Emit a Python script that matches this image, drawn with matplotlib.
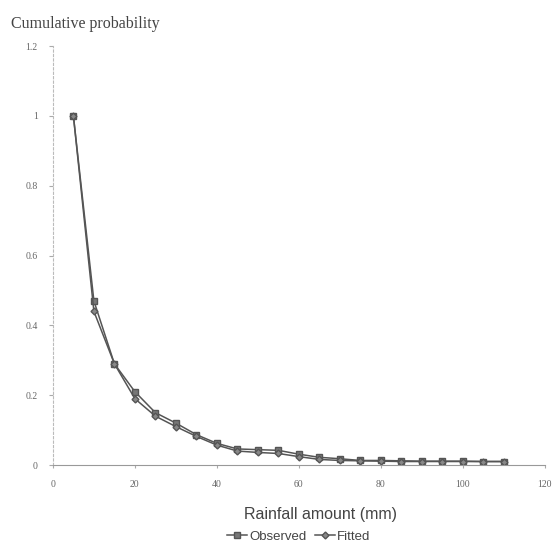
import numpy as np
import matplotlib
matplotlib.use('Agg')
from matplotlib import pyplot as plt

rain = [5, 10, 15, 20, 25, 30, 35, 40, 45, 50, 55,
        60, 65, 70, 75, 80, 85, 90, 95, 100, 105, 110]
observed = [1.0, 0.47, 0.29, 0.21, 0.15, 0.12, 0.087, 0.062, 0.046, 0.044, 0.042,
            0.031, 0.022, 0.018, 0.013, 0.013, 0.012, 0.011, 0.011, 0.011, 0.010, 0.010]
fitted = [1.0, 0.44, 0.29, 0.19, 0.14, 0.11, 0.082, 0.057, 0.040, 0.036, 0.033,
          0.024, 0.016, 0.013, 0.012, 0.011, 0.010, 0.010, 0.010, 0.010, 0.010, 0.010]

yticks = [0, 0.2, 0.4, 0.6, 0.8, 1.0, 1.2]
ytick_labels = ['0', '0.2', '0.4', '0.6', '0.8', '1', '1.2']
xticks = [0, 20, 40, 60, 80, 100, 120]

sans = ['Liberation Sans', 'DejaVu Sans']
serif = ['Liberation Serif', 'DejaVu Serif']


def main():
    fig = plt.figure(figsize=(5.57, 5.49), dpi=100)
    ax = fig.add_axes([0.095, 0.153, 0.883, 0.763])

    ax.plot(rain, observed, color='#555555', lw=1.1, marker='s', ms=4,
            mfc='#777777', mec='#555555', label='Observed')
    ax.plot(rain, fitted, color='#555555', lw=1.1, marker='D', ms=3.5,
            mfc='#888888', mec='#555555', label='Fitted')

    ax.set_xlim(0, 120)
    ax.set_ylim(0, 1.2)
    ax.set_xticks(xticks)
    ax.set_yticks(yticks)
    ax.set_yticklabels(ytick_labels)
    for lab in ax.get_xticklabels() + ax.get_yticklabels():
        lab.set_family(serif)
        lab.set_fontsize(7)
        lab.set_color('#666666')
    ax.tick_params(axis='x', length=2, pad=9, color='#aaaaaa')
    ax.tick_params(axis='y', length=3, pad=8, color='#aaaaaa')

    for side in ['top', 'right']:
        ax.spines[side].set_visible(False)
    ax.spines['left'].set_color('#bbbbbb')
    ax.spines['left'].set_linestyle((0, (2, 2)))
    ax.spines['bottom'].set_color('#999999')

    ax.set_xlabel('Rainfall amount (mm)', family=sans, fontsize=11.5,
                  color='#444444', labelpad=12)
    ax.xaxis.set_label_coords(0.545, -0.1)
    fig.text(0.02, 0.957, 'Cumulative probability', family=serif, fontsize=11.5,
             color='#444444', ha='left', va='center')

    ax.legend(loc='upper center', bbox_to_anchor=(0.5, -0.128), ncol=2,
              frameon=False, prop={'family': sans, 'size': 9.5},
              handlelength=1.5, handletextpad=0.2, columnspacing=0.6,
              labelcolor='#444444')

    fig.savefig('out.png', dpi=100)


if __name__ == '__main__':
    main()
